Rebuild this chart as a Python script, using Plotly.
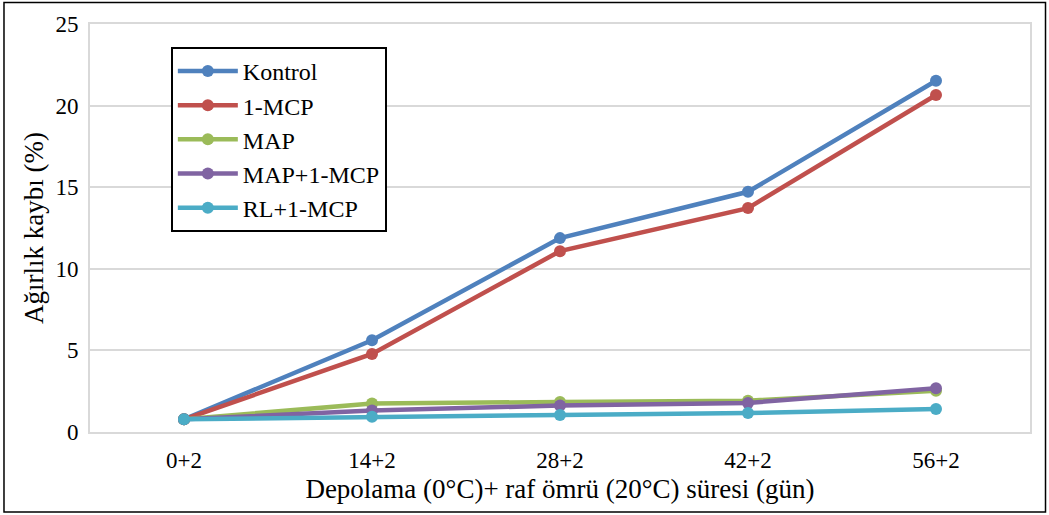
import plotly.graph_objects as go

categories = ["0+2", "14+2", "28+2", "42+2", "56+2"]
kontrol = [0.78, 5.62, 11.88, 14.72, 21.52]
mcp = [0.78, 4.78, 11.08, 13.72, 20.65]
map_ = [0.78, 1.75, 1.84, 1.92, 2.52]
map_mcp = [0.78, 1.32, 1.62, 1.78, 2.68]
rl_mcp = [0.78, 0.94, 1.04, 1.16, 1.41]

names = ["Kontrol", "1-MCP", "MAP", "MAP+1-MCP", "RL+1-MCP"]
series = [kontrol, mcp, map_, map_mcp, rl_mcp]
colors = ["#4F81BD", "#C0504D", "#9BBB59", "#8064A2", "#4BACC6"]

fig = go.Figure()
for n, s, c in zip(names, series, colors):
    fig.add_trace(go.Scatter(
        x=categories, y=s, name=n, mode="lines+markers",
        line=dict(color=c, width=4.5),
        marker=dict(color=c, size=12),
    ))

font = "Liberation Serif"
fig.update_layout(
    width=1049, height=515,
    margin=dict(l=90, r=19, t=24, b=83),
    paper_bgcolor="white", plot_bgcolor="white",
    font=dict(family=font, size=23, color="black"),
    showlegend=True,
    legend=dict(
        x=0.086, y=0.944, xanchor="left", yanchor="top",
        bordercolor="black", borderwidth=2, bgcolor="white",
        font=dict(family=font, size=24, color="black"),
        itemwidth=60, tracegroupgap=0,
    ),
    xaxis=dict(
        type="category", range=[-0.5, 4.5],
        showgrid=False, showline=True, linecolor="#D9D9D9", linewidth=2,
        mirror=True, ticks="", tickfont=dict(size=23), ticklabelstandoff=6,
        title=dict(text="Depolama (0°C)+ raf ömrü (20°C) süresi (gün)",
                   font=dict(size=27), standoff=8),
    ),
    yaxis=dict(
        range=[0, 25], dtick=5, showgrid=True, gridcolor="#D9D9D9", gridwidth=1.5,
        showline=True, linecolor="#D9D9D9", linewidth=2, mirror=True,
        zeroline=False, ticks="", ticklen=0, tickfont=dict(size=23),
        ticklabelstandoff=5,
        title=dict(text="Ağırlık kaybı (%)", font=dict(size=27), standoff=4),
    ),
    shapes=[dict(type="rect", xref="paper", yref="paper",
                 x0=-0.0915, x1=1.0165, y0=-0.196, y1=1.053,
                 line=dict(color="black", width=1.5), fillcolor="rgba(0,0,0,0)")],
)

fig.write_html("out.html")
